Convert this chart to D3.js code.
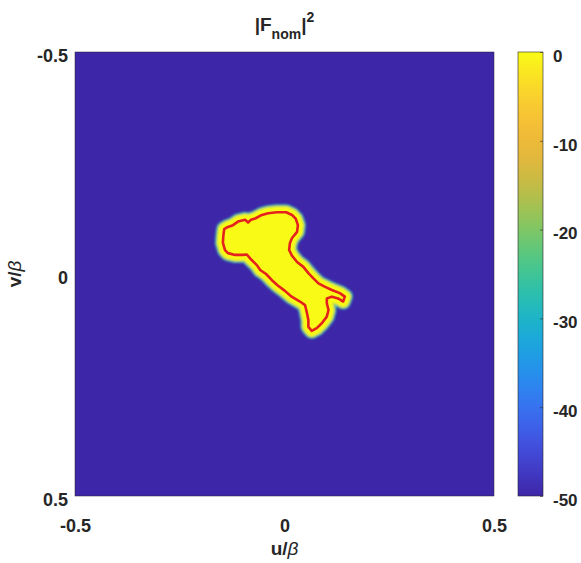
<!DOCTYPE html>
<html>
<head>
<meta charset="utf-8">
<script src="https://cdn.jsdelivr.net/npm/d3@7"></script>
<style>
  body { margin: 0; background: #fff; }
  text { font-family: "Liberation Sans", Arial, Helvetica, sans-serif; font-weight: bold; fill: #262626; }
</style>
</head>
<body>
<div id="chart"></div>
<script>
// Axis ticks
const uTicks = [-0.5, 0, 0.5]
const vTicks = [-0.5, 0, 0.5]
const dbTicks = [0, -10, -20, -30, -40, -50]

// Field levels in dB: floor outside the lobe, peak inside
const dbFloor = -50
const dbPeak = 0

// Red contour of the main lobe (u/beta, v/beta)
const contourU = [
  -0.144, -0.135, -0.123, -0.111, -0.094, -0.087, -0.080, -0.070, -0.054, -0.039,
  -0.018, 0.004, 0.018, 0.027, 0.032, 0.030, 0.018, 0.013, 0.011, 0.018,
  0.030, 0.045, 0.057, 0.069, 0.081, 0.097, 0.113, 0.132, 0.144, 0.140,
  0.128, 0.113, 0.101, 0.101, 0.105, 0.101, 0.089, 0.077, 0.065, 0.057,
  0.057, 0.053, 0.049, 0.037, 0.017, 0.001, -0.016, -0.030, -0.044, -0.058,
  -0.066, -0.082, -0.090, -0.099, -0.118, -0.135, -0.142, -0.147, -0.146,
]
const contourV = [
  -0.101, -0.106, -0.110, -0.118, -0.122, -0.116, -0.122, -0.125, -0.133, -0.137,
  -0.139, -0.139, -0.133, -0.124, -0.110, -0.095, -0.081, -0.070, -0.054, -0.041,
  -0.027, -0.016, -0.002, 0.010, 0.021, 0.029, 0.036, 0.043, 0.051, 0.062,
  0.055, 0.051, 0.055, 0.066, 0.081, 0.096, 0.111, 0.122, 0.128, 0.119,
  0.104, 0.085, 0.070, 0.062, 0.051, 0.038, 0.026, 0.014, 0.000, -0.009,
  -0.020, -0.035, -0.044, -0.043, -0.043, -0.047, -0.054, -0.070, -0.086,
]

const width = 581
const height = 563
const plot = { left: 75, right: 494, top: 52, bottom: 496 }
const bar = { left: 518, right: 543 }

const svg = d3.select("#chart").append("svg").attr("width", width).attr("height", height)
const defs = svg.append("defs")

// Scales
const x = d3.scaleLinear().domain([-0.5, 0.5]).range([plot.left, plot.right])
const y = d3.scaleLinear().domain([-0.5, 0.5]).range([plot.top, plot.bottom])
const yBar = d3.scaleLinear().domain([dbFloor, dbPeak]).range([plot.bottom, plot.top])

// parula-like colormap
const parula = d3.interpolateRgbBasis([
  "#3e26a8", "#4653e8", "#2d87f7", "#11b1d6", "#37c897",
  "#91c854", "#e8b23a", "#fcc237", "#f9fb15",
])
const color = d3.scaleSequential(parula).domain([dbFloor, dbPeak])

defs.append("clipPath").attr("id", "plot-clip")
  .append("rect")
  .attr("x", plot.left).attr("y", plot.top)
  .attr("width", plot.right - plot.left).attr("height", plot.bottom - plot.top)

defs.append("filter").attr("id", "soft")
  .append("feGaussianBlur").attr("stdDeviation", 1.2)

// Field floor
svg.append("rect")
  .attr("x", x(-0.5)).attr("y", y(-0.5))
  .attr("width", x(0.5) - x(-0.5)).attr("height", y(0.5) - y(-0.5))
  .attr("fill", color(dbFloor))

const pts = contourU.map((u, i) => [u, contourV[i]])
const outline = d3.line().x((d) => x(d[0])).y((d) => y(d[1])).curve(d3.curveLinearClosed)

// Main lobe with its soft fringe
const lobe = svg.append("g").attr("clip-path", "url(#plot-clip)")
  .append("g").attr("filter", "url(#soft)")
  .attr("stroke-linejoin", "round")

const fringe = [
  [color(-30), 16],
  [color(-20), 14],
  [d3.interpolateRgb(color(-18), color(0))(0.55), 12.5],
  [color(dbPeak), 10.5],
]
for (const [c, w] of fringe) {
  lobe.append("path").attr("d", outline(pts)).attr("fill", c).attr("stroke", c).attr("stroke-width", w)
}

// Red contour
svg.append("path")
  .attr("d", outline(pts))
  .attr("fill", "none")
  .attr("stroke", "#e4211c")
  .attr("stroke-width", 2.6)
  .attr("stroke-linejoin", "round")

// Plot frame
svg.append("rect")
  .attr("x", plot.left).attr("y", plot.top)
  .attr("width", plot.right - plot.left).attr("height", plot.bottom - plot.top)
  .attr("fill", "none").attr("stroke", "#262626").attr("stroke-width", 0.5)

// Axes
const xAxis = svg.append("g")
  .attr("transform", `translate(0,${plot.bottom})`)
  .call(d3.axisBottom(x).tickValues(uTicks).tickSize(0).tickPadding(23).tickFormat(d3.format("")))
const yAxis = svg.append("g")
  .attr("transform", `translate(${plot.left},0)`)
  .call(d3.axisLeft(y).tickValues(vTicks).tickSize(0).tickPadding(7).tickFormat(d3.format("")))

for (const g of [xAxis, yAxis]) {
  g.select(".domain").remove()
  g.selectAll("text").attr("font-size", 18).attr("font-family", null).attr("fill", "#262626")
}
xAxis.selectAll("text").text((d) => String(d).replace("\u2212", "-"))
yAxis.selectAll("text").attr("dy", "0.5em").text((d) => String(d).replace("\u2212", "-"))

// Colorbar
const grad = defs.append("linearGradient").attr("id", "cbar")
  .attr("x1", 0).attr("y1", 1).attr("x2", 0).attr("y2", 0)
grad.selectAll("stop")
  .data(yBar.ticks(25))
  .join("stop")
  .attr("offset", (d) => (d - dbFloor) / (dbPeak - dbFloor))
  .attr("stop-color", (d) => color(d))

svg.append("rect")
  .attr("x", bar.left).attr("y", yBar(dbPeak))
  .attr("width", bar.right - bar.left).attr("height", yBar(dbFloor) - yBar(dbPeak))
  .attr("fill", "url(#cbar)")
  .attr("stroke", "#262626").attr("stroke-width", 0.6)

const cAxis = svg.append("g")
  .attr("transform", `translate(${bar.right},0)`)
  .call(d3.axisRight(yBar).tickValues(dbTicks).tickSize(-3).tickPadding(10).tickFormat((d) => String(d)))
cAxis.select(".domain").remove()
cAxis.selectAll("line").attr("stroke", "#262626").attr("stroke-width", 0.6)
cAxis.selectAll("text").attr("font-size", 17).attr("font-family", null).attr("fill", "#262626").attr("dy", "0.55em")

// Title |F_nom|^2
const title = svg.append("text")
  .attr("x", (plot.left + plot.right) / 2).attr("y", 31)
  .attr("text-anchor", "middle").attr("font-size", 19)
title.append("tspan").text("|F")
title.append("tspan").attr("dy", 8).attr("font-size", 14).text("nom")
title.append("tspan").attr("dy", -8).text("|")
title.append("tspan").attr("dy", -9).attr("font-size", 14).text("2")

// Axis labels
const xLabel = svg.append("text")
  .attr("x", (plot.left + plot.right) / 2).attr("y", 555)
  .attr("text-anchor", "middle").attr("font-size", 19)
xLabel.append("tspan").text("u/")
xLabel.append("tspan").attr("font-style", "italic").attr("font-weight", "normal").text("\u03b2")

const yLabel = svg.append("text")
  .attr("transform", `translate(21,${(plot.top + plot.bottom) / 2}) rotate(-90)`)
  .attr("text-anchor", "middle").attr("font-size", 19)
yLabel.append("tspan").text("v/")
yLabel.append("tspan").attr("font-style", "italic").attr("font-weight", "normal").text("\u03b2")
</script>
</body>
</html>
